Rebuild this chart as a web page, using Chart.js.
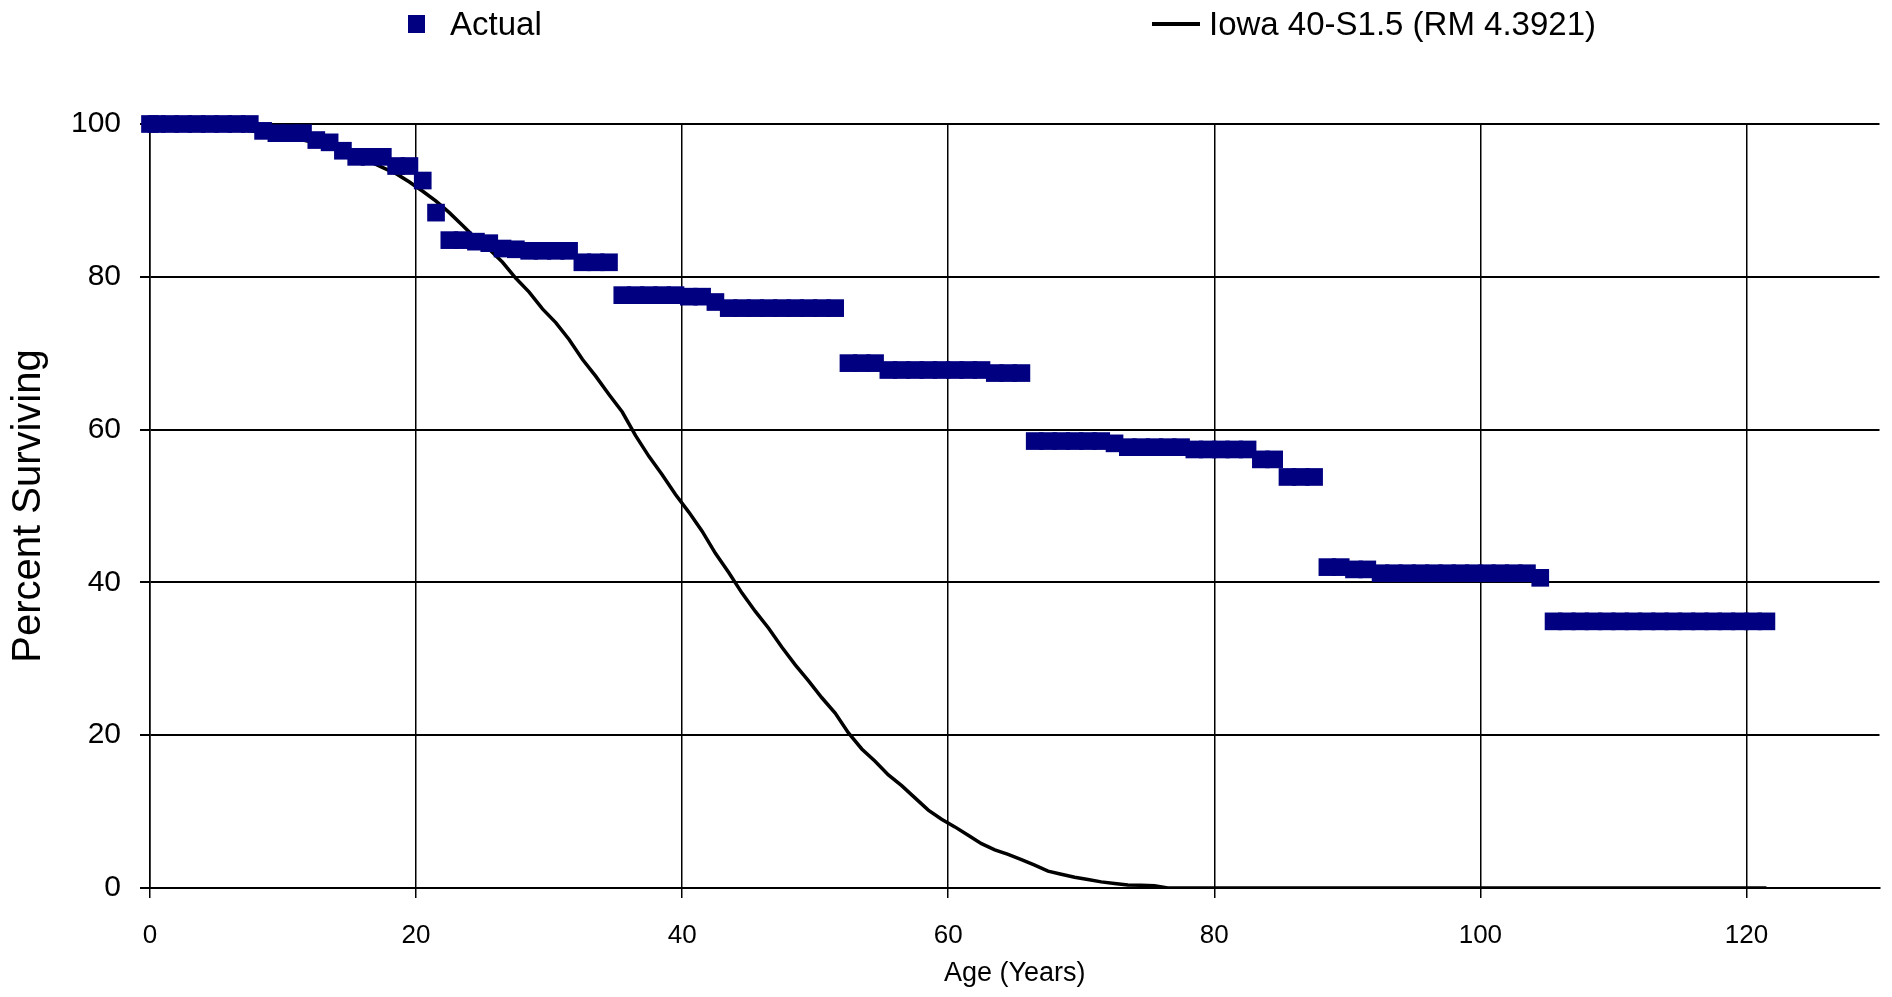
<!DOCTYPE html>
<html>
<head>
<meta charset="utf-8">
<title>Percent Surviving vs Age</title>
<script src="https://cdn.jsdelivr.net/npm/chart.js@4.4.1/dist/chart.umd.min.js"></script>
<style>
  html, body { margin: 0; padding: 0; background: #fff; }
  #wrap { position: relative; width: 1892px; height: 997px; }
  #legend { position: absolute; left: 0; top: 0; width: 1892px; height: 50px;
            font-family: "Liberation Sans", Arial, sans-serif; font-size: 33px; color: #000; }
  #legend .sw-actual { position: absolute; left: 408px; top: 15px; width: 17px; height: 18px; background: #000080; }
  #legend .sw-iowa { position: absolute; left: 1152px; top: 22px; width: 48px; height: 4px; background: #000; }
  #legend .lbl { position: absolute; top: 5px; line-height: 38px; white-space: nowrap; }
</style>
</head>
<body>
<div id="wrap">
  <canvas id="c" width="1892" height="997"></canvas>
  <div id="legend">
    <span class="sw-actual"></span><span class="lbl" style="left:450px">Actual</span>
    <span class="sw-iowa"></span><span class="lbl" style="left:1209px">Iowa 40-S1.5 (RM 4.3921)</span>
  </div>
</div>
<script>
/* Survivor curve: observed (Actual) vs fitted Iowa 40-S1.5.
   Values read off the reference picture, one entry per age. */

const AGES = [
  0, 0.5, 1.5, 2.5, 3.5, 4.5, 5.5, 6.5, 7.5, 8.5, 9.5, 10.5, 11.5, 12.5, 13.5, 14.5,
  15.5, 16.5, 17.5, 18.5, 19.5, 20.5, 21.5, 22.5, 23.5, 24.5, 25.5, 26.5, 27.5, 28.5, 29.5, 30.5,
  31.5, 32.5, 33.5, 34.5, 35.5, 36.5, 37.5, 38.5, 39.5, 40.5, 41.5, 42.5, 43.5, 44.5, 45.5, 46.5,
  47.5, 48.5, 49.5, 50.5, 51.5, 52.5, 53.5, 54.5, 55.5, 56.5, 57.5, 58.5, 59.5, 60.5, 61.5, 62.5,
  63.5, 64.5, 65.5, 66.5, 67.5, 68.5, 69.5, 70.5, 71.5, 72.5, 73.5, 74.5, 75.5, 76.5, 77.5, 78.5,
  79.5, 80.5, 81.5, 82.5, 83.5, 84.5, 85.5, 86.5, 87.5, 88.5, 89.5, 90.5, 91.5, 92.5, 93.5, 94.5,
  95.5, 96.5, 97.5, 98.5, 99.5, 100.5, 101.5, 102.5, 103.5, 104.5, 105.5, 106.5, 107.5, 108.5, 109.5, 110.5,
  111.5, 112.5, 113.5, 114.5, 115.5, 116.5, 117.5, 118.5, 119.5, 120.5, 121.5
];

const ACTUAL = [
  100, 100, 100, 100, 100, 100, 100, 100, 100, 99.1, 98.8, 98.8, 98.8, 97.9, 97.6, 96.5,
  95.7, 95.7, 95.7, 94.5, 94.5, 92.6, 88.4, 84.8, 84.8, 84.6, 84.4, 83.7, 83.6, 83.4, 83.4, 83.4,
  83.4, 81.9, 81.9, 81.9, 77.6, 77.6, 77.6, 77.6, 77.6, 77.4, 77.4, 76.7, 75.9, 75.9, 75.9, 75.9,
  75.9, 75.9, 75.9, 75.9, 75.9, 68.7, 68.7, 68.7, 67.8, 67.8, 67.8, 67.8, 67.8, 67.8, 67.8, 67.8,
  67.4, 67.4, 67.4, 58.5, 58.5, 58.5, 58.5, 58.5, 58.5, 58.2, 57.7, 57.7, 57.7, 57.7, 57.7, 57.4,
  57.4, 57.4, 57.4, 57.4, 56.1, 56.1, 53.8, 53.8, 53.8, 42.0, 42.0, 41.7, 41.7, 41.2, 41.2, 41.2,
  41.2, 41.2, 41.2, 41.2, 41.2, 41.2, 41.2, 41.2, 41.2, 40.6, 34.9, 34.9, 34.9, 34.9, 34.9, 34.9,
  34.9, 34.9, 34.9, 34.9, 34.9, 34.9, 34.9, 34.9, 34.9, 34.9, 34.9
];

const IOWA = [
  100, 100, 99.95, 99.9, 99.8, 99.65, 99.5, 99.3, 99.1, 98.9, 98.6, 98.3, 97.9, 97.5, 97.0, 96.4,
  95.8, 95.1, 94.3, 93.5, 92.4, 91.2, 89.9, 88.4, 86.7, 85.0, 83.6, 81.9, 79.8, 78.0, 75.8, 74.0,
  71.8, 69.2, 67.0, 64.6, 62.3, 59.2, 56.5, 54.1, 51.5, 49.2, 46.7, 43.8, 41.3, 38.6, 36.2, 34.0,
  31.5, 29.2, 27.1, 24.9, 22.9, 20.3, 18.2, 16.6, 14.8, 13.4, 11.8, 10.2, 9.0, 8.0, 6.9, 5.8,
  5.0, 4.4, 3.7, 3.0, 2.2, 1.8, 1.4, 1.1, 0.8, 0.6, 0.4, 0.35, 0.3, 0, 0, 0,
  0, 0, 0, 0, 0, 0, 0, 0, 0, 0, 0, 0, 0, 0, 0, 0,
  0, 0, 0, 0, 0, 0, 0, 0, 0, 0, 0, 0, 0, 0, 0, 0,
  0, 0, 0, 0, 0, 0, 0, 0, 0, 0, 0
];

const X_TICKS = [0, 20, 40, 60, 80, 100, 120];
const Y_TICKS = [0, 20, 40, 60, 80, 100];

const FONT = '"Liberation Sans", Arial, sans-serif';
const NAVY = "#000080";

const pts = vals => AGES.map((a, i) => ({ x: a, y: vals[i] }));

new Chart(document.getElementById("c"), {
  type: "line",
  data: {
    datasets: [
      {
        label: "Actual",
        data: pts(ACTUAL),
        showLine: false,
        pointStyle: "rect",
        pointRadius: 12.5,
        pointBackgroundColor: NAVY,
        pointBorderColor: NAVY,
        pointBorderWidth: 0,
        clip: false,
      },
      {
        label: "Iowa 40-S1.5 (RM 4.3921)",
        data: pts(IOWA),
        borderColor: "#000",
        borderWidth: 3.5,
        pointRadius: 0,
        tension: 0,
        fill: false,
      },
    ],
  },
  options: {
    responsive: false,
    animation: false,
    events: [],
    layout: { padding: { top: 124, right: 10, left: 0, bottom: 0 } },
    plugins: { legend: { display: false }, tooltip: { enabled: false } },
    scales: {
      x: {
        type: "linear",
        min: 0, max: 130,
        afterBuildTicks: s => { s.ticks = X_TICKS.map(v => ({ value: v })); },
        afterFit: s => { s.height = 109; },
        grid: { color: "#000", lineWidth: 1.5, tickLength: 10, drawTicks: true },
        border: { display: true, color: "#000", width: 2 },
        ticks: { color: "#000", padding: 22, maxRotation: 0, font: { family: FONT, size: 26 } },
        title: {
          display: true, text: "Age (Years)", color: "#000",
          font: { family: FONT, size: 27, lineHeight: 1.2 },
          padding: { top: 0, bottom: 7 },
        },
      },
      y: {
        min: 0, max: 100,
        afterBuildTicks: s => { s.ticks = Y_TICKS.map(v => ({ value: v })); },
        afterFit: s => { s.width = 150; },
        grid: { color: "#000", lineWidth: 2, tickLength: 10, drawTicks: true },
        border: { display: true, color: "#000", width: 1.5 },
        ticks: { color: "#000", padding: 19, font: { family: FONT, size: 30 } },
        title: {
          display: true, text: "Percent Surviving", color: "#000",
          font: { family: FONT, size: 40, lineHeight: 1.2 },
          padding: { top: 5, bottom: 0 },
        },
      },
    },
  },
});
</script>
</body>
</html>
